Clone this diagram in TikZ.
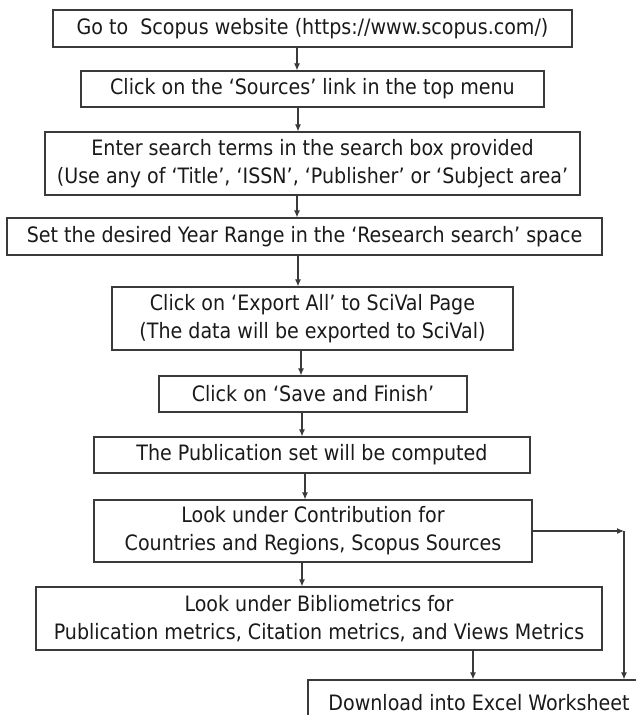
\documentclass[tikz,border=0pt]{standalone}
\usepackage{fontspec}
\setmainfont{DejaVu Sans Condensed}
\usetikzlibrary{arrows.meta}
\definecolor{ln}{HTML}{3A3A3A}
\definecolor{tx}{HTML}{1A1A1A}
\begin{document}
\begin{tikzpicture}[x=1pt,y=-1pt,
  boxnode/.style={draw=ln, line width=1.2pt, inner sep=0pt, align=center, text=tx,
    font=\fontsize{21.2}{28}\selectfont},
  arr/.style={draw=ln, line width=1.1pt, -{Latex[length=7pt,width=6pt]}}]
\useasboundingbox (0,0) rectangle (636,715);
\clip (0,0) rectangle (636,715);
\fill[white] (0,0) rectangle (636,715);

\node[boxnode, minimum width=519pt, minimum height=37pt] (b1) at (312.5,28.5)
  {Go to\ \ Scopus website (https://www.scopus.com/)};
\node[boxnode, minimum width=463pt, minimum height=36pt] (b2) at (312.5,89)
  {Click on the ‘Sources’ link in the top menu};
\node[boxnode, minimum width=535pt, minimum height=63pt] (b3) at (312.5,163.5)
  {Enter search terms in the search box provided\\(Use any of ‘Title’, ‘ISSN’, ‘Publisher’ or ‘Subject area’};
\node[boxnode, minimum width=595pt, minimum height=37pt] (b4) at (304.5,236.5)
  {Set the desired Year Range in the ‘Research search’ space};
\node[boxnode, minimum width=401pt, minimum height=63pt] (b5) at (312.5,318.5)
  {Click on ‘Export All’ to SciVal Page\\(The data will be exported to SciVal)};
\node[boxnode, minimum width=308pt, minimum height=36pt] (b6) at (313,394)
  {Click on ‘Save and Finish’};
\node[boxnode, minimum width=436pt, minimum height=36pt] (b7) at (312,455)
  {The Publication set will be computed};
\node[boxnode, minimum width=438pt, minimum height=62pt] (b8) at (313,531)
  {Look under Contribution for\\Countries and Regions, Scopus Sources};
\node[boxnode, minimum width=566pt, minimum height=63pt] (b9) at (319,618.5)
  {Look under Bibliometrics for\\Publication metrics, Citation metrics, and Views Metrics};
\node[boxnode, minimum width=342pt, minimum height=45pt] (b10) at (479,702.5)
  {Download into Excel Worksheet};

\draw[arr] (b1.south -| 297,0) -- (b2.north -| 297,0);
\draw[arr] (b2.south -| 298,0) -- (b3.north -| 298,0);
\draw[arr] (b3.south -| 297,0) -- (b4.north -| 297,0);
\draw[arr] (b4.south -| 298,0) -- (b5.north -| 298,0);
\draw[arr] (b5.south -| 301,0) -- (b6.north -| 301,0);
\draw[arr] (b6.south -| 302,0) -- (b7.north -| 302,0);
\draw[arr] (b7.south -| 305,0) -- (b8.north -| 305,0);
\draw[arr] (b8.south -| 302,0) -- (b9.north -| 302,0);
\draw[arr] (b9.south -| 473,0) -- (b10.north -| 473,0);
\coordinate (corner) at (624,531);
\draw[arr] (b8.east) -- (corner);
\draw[arr] (corner) -- (b10.north -| corner);
\end{tikzpicture}
\end{document}
